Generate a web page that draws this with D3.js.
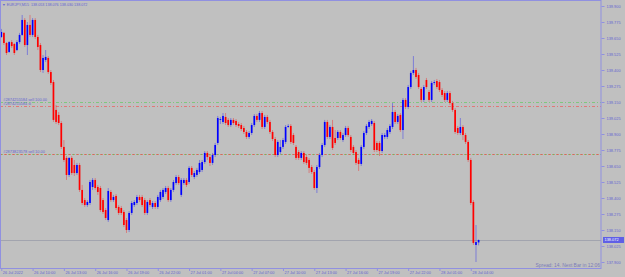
<!DOCTYPE html>
<html>
<head>
<meta charset="utf-8">
<script src="https://cdn.jsdelivr.net/npm/d3@7"></script>
<style>
  html, body { margin: 0; padding: 0; background: #c0c0c0; }
  svg { display: block; }
  text { font-family: "Liberation Sans", Arial, sans-serif; }
</style>
</head>
<body>
<div id="chart"></div>
<script>
// EURJPY M15, 26 Jul 2022 07:00 -> 28 Jul 2022 04:45
const symbolTitle = "\u25BC EURJPY,M15  138.053 138.076 138.030 138.072";
const spreadText = "Spread: 14. Next Bar in 12:06";
const firstBar = new Date(2022, 6, 26, 7, 0);

const opens = [
  139.658, 139.690, 139.611, 139.541, 139.618, 139.603, 139.556, 139.618, 139.674, 139.791,
  139.595, 139.752, 139.674, 139.791, 139.658, 139.595, 139.400, 139.478, 139.494, 139.384,
  139.306, 139.088, 139.049, 138.986, 138.799, 138.713, 138.580, 138.713, 138.658, 138.595,
  138.658, 138.463, 138.384, 138.345, 138.361, 138.486, 138.541, 138.486, 138.478, 138.384,
  138.306, 138.228, 138.447, 138.384, 138.416, 138.330, 138.322, 138.291, 138.228, 138.150,
  138.283, 138.345, 138.361, 138.408, 138.408, 138.384, 138.283, 138.384, 138.330, 138.361,
  138.330, 138.384, 138.408, 138.447, 138.478, 138.384, 138.463, 138.517, 138.564, 138.424,
  138.517, 138.541, 138.525, 138.635, 138.564, 138.580, 138.603,
  138.619, 138.681, 138.752, 138.720, 138.674, 138.736, 138.830, 139.010, 138.994, 139.033,
  139.010, 138.970, 139.010, 139.002, 138.978, 138.970, 138.947, 138.916, 138.877, 138.908,
  138.970, 139.041, 139.010, 139.064, 138.955, 139.033, 138.994, 138.916, 138.861, 138.736,
  138.759, 138.799, 138.838, 138.955, 138.963, 138.892, 138.799, 138.759, 138.713, 138.752,
  138.720, 138.697, 138.642, 138.603, 138.478, 138.642, 138.736, 138.814, 138.994, 138.877,
  138.955, 138.869, 138.869, 138.916, 138.853, 138.892, 138.947, 138.877, 138.799, 138.759,
  138.697, 138.666, 138.799, 138.908, 138.955, 138.978, 138.986, 138.830, 138.830, 138.767,
  138.877, 138.877, 138.916, 138.955, 139.072, 138.994,
  139.049, 138.931, 139.166, 139.111, 139.267, 139.377, 139.400, 139.361, 139.252, 139.166,
  139.322, 139.228, 139.166, 139.299, 139.314, 139.306, 139.244, 139.220, 139.166, 139.220,
  139.142, 139.088, 138.947, 138.908, 138.955, 138.892, 138.838, 138.697, 138.369, 138.033,
  138.053
];
const highs = [
  139.721, 139.697, 139.618, 139.626, 139.634, 139.611, 139.634, 139.690, 139.830, 139.806,
  139.775, 139.830, 139.806, 139.806, 139.674, 139.611, 139.517, 139.556, 139.509, 139.400,
  139.322, 139.127, 139.072, 139.002, 138.853, 138.728, 138.720, 138.728, 138.697, 138.674,
  138.674, 138.502, 138.400, 138.384, 138.541, 138.556, 138.556, 138.502, 138.494, 138.400,
  138.322, 138.478, 138.463, 138.424, 138.431, 138.345, 138.338, 138.306, 138.244, 138.298,
  138.377, 138.384, 138.424, 138.424, 138.424, 138.400, 138.384, 138.400, 138.377, 138.377,
  138.424, 138.463, 138.478, 138.494, 138.494, 138.478, 138.541, 138.580, 138.580, 138.556,
  138.556, 138.556, 138.650, 138.650, 138.611, 138.635, 138.697,
  138.697, 138.767, 138.767, 138.736, 138.752, 138.830, 139.041, 139.033, 139.064, 139.064,
  139.025, 139.025, 139.025, 139.017, 138.994, 138.986, 138.963, 138.931, 138.923, 138.986,
  139.056, 139.056, 139.080, 139.080, 139.049, 139.049, 139.010, 138.931, 138.877, 138.853,
  138.853, 138.869, 138.970, 138.978, 138.978, 138.908, 138.814, 138.775, 138.767, 138.767,
  138.736, 138.713, 138.658, 138.619, 138.658, 138.752, 138.830, 139.010, 139.010, 138.970,
  139.010, 138.931, 138.931, 138.931, 138.908, 138.963, 138.963, 138.892, 138.814, 138.775,
  138.713, 138.814, 138.923, 138.978, 139.010, 139.017, 139.002, 138.845, 138.845, 138.908,
  138.908, 138.947, 138.978, 139.142, 139.088, 139.056,
  139.064, 139.181, 139.181, 139.283, 139.392, 139.509, 139.416, 139.377, 139.267, 139.283,
  139.338, 139.244, 139.314, 139.322, 139.330, 139.322, 139.259, 139.236, 139.236, 139.236,
  139.158, 139.103, 138.963, 139.025, 138.970, 138.908, 138.853, 138.713, 138.384, 138.189,
  138.076
];
const lows = [
  139.650, 139.595, 139.517, 139.533, 139.572, 139.517, 139.548, 139.603, 139.666, 139.580,
  139.517, 139.658, 139.658, 139.642, 139.556, 139.384, 139.377, 139.462, 139.369, 139.283,
  138.994, 138.978, 138.970, 138.783, 138.681, 138.541, 138.564, 138.580, 138.572, 138.580,
  138.447, 138.345, 138.330, 138.330, 138.345, 138.463, 138.463, 138.424, 138.291, 138.275,
  138.228, 138.213, 138.369, 138.369, 138.306, 138.267, 138.267, 138.173, 138.127, 138.134,
  138.267, 138.330, 138.345, 138.369, 138.330, 138.267, 138.267, 138.330, 138.314, 138.314,
  138.314, 138.369, 138.392, 138.431, 138.369, 138.369, 138.447, 138.502, 138.502, 138.408,
  138.502, 138.486, 138.509, 138.564, 138.548, 138.564, 138.588,
  138.603, 138.666, 138.697, 138.650, 138.658, 138.720, 138.814, 138.978, 138.978, 138.970,
  138.955, 138.955, 138.970, 138.955, 138.947, 138.923, 138.900, 138.861, 138.861, 138.892,
  138.955, 138.994, 138.994, 138.939, 138.939, 138.978, 138.900, 138.845, 138.720, 138.720,
  138.744, 138.783, 138.822, 138.947, 138.822, 138.814, 138.697, 138.697, 138.697, 138.666,
  138.658, 138.595, 138.588, 138.463, 138.439, 138.627, 138.720, 138.799, 138.861, 138.861,
  138.775, 138.814, 138.853, 138.853, 138.838, 138.877, 138.877, 138.759, 138.736, 138.658,
  138.611, 138.650, 138.783, 138.892, 138.939, 138.963, 138.759, 138.759, 138.728, 138.752,
  138.861, 138.861, 138.900, 138.939, 138.978, 138.978,
  138.916, 138.861, 139.095, 139.095, 139.252, 139.361, 139.330, 139.252, 139.150, 139.150,
  139.252, 139.150, 139.150, 139.283, 139.252, 139.228, 139.189, 139.150, 139.150, 139.127,
  139.072, 138.900, 138.892, 138.892, 138.853, 138.822, 138.681, 138.345, 138.033, 137.900,
  138.030
];
const closes = [
  139.697, 139.611, 139.533, 139.618, 139.587, 139.533, 139.618, 139.674, 139.791, 139.595,
  139.752, 139.674, 139.791, 139.658, 139.580, 139.400, 139.494, 139.502, 139.384, 139.299,
  139.010, 138.994, 138.986, 138.799, 138.697, 138.580, 138.713, 138.595, 138.595, 138.658,
  138.463, 138.361, 138.345, 138.369, 138.525, 138.541, 138.478, 138.447, 138.306, 138.291,
  138.244, 138.455, 138.384, 138.408, 138.322, 138.283, 138.283, 138.189, 138.150, 138.283,
  138.361, 138.369, 138.408, 138.384, 138.345, 138.283, 138.369, 138.345, 138.361, 138.330,
  138.408, 138.447, 138.463, 138.478, 138.384, 138.463, 138.525, 138.564, 138.517, 138.541,
  138.541, 138.502, 138.635, 138.580, 138.595, 138.619, 138.674,
  138.681, 138.752, 138.720, 138.674, 138.736, 138.814, 139.025, 139.017, 139.041, 138.986,
  138.970, 139.010, 138.986, 138.970, 138.963, 138.939, 138.916, 138.877, 138.908, 138.970,
  139.041, 139.010, 139.064, 138.955, 139.033, 138.994, 138.916, 138.861, 138.736, 138.838,
  138.799, 138.853, 138.955, 138.963, 138.838, 138.830, 138.713, 138.713, 138.752, 138.681,
  138.674, 138.635, 138.603, 138.478, 138.642, 138.736, 138.814, 138.994, 138.877, 138.955,
  138.791, 138.830, 138.916, 138.869, 138.892, 138.947, 138.892, 138.775, 138.752, 138.674,
  138.666, 138.799, 138.908, 138.963, 138.994, 139.002, 138.775, 138.775, 138.767, 138.892,
  138.892, 138.931, 138.963, 139.072, 138.994, 139.041,
  138.931, 139.166, 139.111, 139.267, 139.377, 139.400, 139.345, 139.267, 139.166, 139.267,
  139.267, 139.166, 139.299, 139.306, 139.267, 139.244, 139.205, 139.166, 139.220, 139.142,
  139.088, 138.916, 138.908, 138.955, 138.892, 138.838, 138.697, 138.361, 138.049, 138.056,
  138.072
];

// price axis ticks
const priceTicks = [139.900, 139.775, 139.650, 139.525, 139.400, 139.275, 139.150, 139.025,
  138.900, 138.775, 138.650, 138.525, 138.400, 138.275, 138.150, 138.025, 137.900];

// time axis ticks and their labels
const timeTicks = [
  new Date(2022, 6, 26, 7), new Date(2022, 6, 26, 10), new Date(2022, 6, 26, 13),
  new Date(2022, 6, 26, 16), new Date(2022, 6, 26, 19), new Date(2022, 6, 26, 22),
  new Date(2022, 6, 27, 1), new Date(2022, 6, 27, 4), new Date(2022, 6, 27, 7),
  new Date(2022, 6, 27, 10), new Date(2022, 6, 27, 13), new Date(2022, 6, 27, 16),
  new Date(2022, 6, 27, 19), new Date(2022, 6, 27, 22), new Date(2022, 6, 28, 1),
  new Date(2022, 6, 28, 4)
];
const timeLabels = ["26 Jul 2022", "26 Jul 10:00", "26 Jul 13:00", "26 Jul 16:00",
  "26 Jul 19:00", "26 Jul 22:00", "27 Jul 01:00", "27 Jul 04:00", "27 Jul 07:00",
  "27 Jul 10:00", "27 Jul 13:00", "27 Jul 16:00", "27 Jul 19:00", "27 Jul 22:00",
  "28 Jul 01:00", "28 Jul 04:00"];

// open orders drawn on the chart
const orderLabels = ["#2874255584 sell 100.00", "#2874255584 sl", "#2873823578 sell 10.00", ""];
const orderPrices = [139.152, 139.117, 138.740, 138.740];
const orderKinds = ["entry", "sl", "entry", "sl"];

const W = 625, H = 277;
const plotRight = 601, plotBottom = 268.5;
const bg = "#c0c0c0";
const fg = "#6464d2";
const frameColor = "#9090e0";
const upColor = "#0000ff", downColor = "#ff0000";

const barTimes = opens.map((_, i) => d3.timeMinute.offset(firstBar, 15 * i));
const last = opens.length - 1;

const x = d3.scaleTime()
  .domain([barTimes[0], barTimes[last]])
  .range([1.3, 478.6]);
const y = d3.scaleLinear()
  .domain([137.9, 139.9])
  .range([262, 6]);

const svg = d3.select("#chart").append("svg")
  .attr("width", W)
  .attr("height", H);

svg.append("rect")
  .attr("width", W).attr("height", H)
  .attr("fill", bg);

// order lines (dash-dot), pale like MT4 after downscaling
const orders = svg.append("g");
orderPrices.forEach((p, i) => {
  let yy = Math.round(y(p)) + 0.5;
  orders.append("line")
    .attr("x1", 0).attr("x2", plotRight)
    .attr("y1", yy).attr("y2", yy)
    .attr("stroke", orderKinds[i] === "sl" ? "#ff3030" : "#30d030")
    .attr("stroke-opacity", orderKinds[i] === "sl" ? 0.5 : 0.45)
    .attr("stroke-width", 1)
    .attr("stroke-dasharray", "3,2,1,2")
    .attr("stroke-dashoffset", orderKinds[i] === "sl" && i > 1 ? 4 : 0);
  if (orderLabels[i]) {
    orders.append("text")
      .attr("x", 3.3)
      .attr("y", yy - 1.3)
      .attr("font-size", 3.9)
      .attr("fill", fg)
      .text(orderLabels[i]);
  }
});

// bid line
const bidY = Math.round(y(closes[last])) + 0.5;
svg.append("line")
  .attr("x1", 0).attr("x2", plotRight)
  .attr("y1", bidY).attr("y2", bidY)
  .attr("stroke", "#a2a4ae")
  .attr("stroke-width", 1);

// candles
const candles = svg.append("g").selectAll("g")
  .data(opens.map((o, i) => ({t: barTimes[i], o: o, h: highs[i], l: lows[i], c: closes[i]})))
  .join("g");

candles.append("line")
  .attr("x1", d => x(d.t)).attr("x2", d => x(d.t))
  .attr("y1", d => y(d.h)).attr("y2", d => y(d.l))
  .attr("stroke", d => d.c >= d.o ? upColor : downColor)
  .attr("stroke-opacity", 0.35)
  .attr("stroke-width", 1);

candles.append("rect")
  .attr("x", d => x(d.t) - 0.85)
  .attr("width", 1.7)
  .attr("y", d => y(Math.max(d.o, d.c)))
  .attr("height", d => Math.max(0.8, Math.abs(y(d.o) - y(d.c))))
  .attr("fill", d => d.c >= d.o ? upColor : downColor);

// frame
svg.append("rect")
  .attr("x", 0.5).attr("y", 0.5)
  .attr("width", plotRight - 0.5).attr("height", plotBottom - 0.5)
  .attr("fill", "none")
  .attr("stroke", frameColor)
  .attr("stroke-width", 1);

// price axis
const yAxis = svg.append("g")
  .attr("transform", "translate(" + (plotRight + 0.5) + ",0)")
  .call(d3.axisRight(y).tickValues(priceTicks).tickSize(3).tickPadding(2)
    .tickFormat(d3.format(".3f")));
yAxis.select(".domain").remove();
yAxis.selectAll("line").attr("stroke", frameColor);
yAxis.selectAll("text")
  .attr("font-size", 3.9)
  .attr("font-family", "Liberation Sans, Arial, sans-serif")
  .attr("fill", fg);

// time axis
const xAxis = svg.append("g")
  .attr("transform", "translate(0," + plotBottom + ")")
  .call(d3.axisBottom(x).tickValues(timeTicks).tickSize(2.5)
    .tickFormat((d, i) => timeLabels[i]));
xAxis.select(".domain").remove();
xAxis.selectAll("line").attr("stroke", frameColor);
xAxis.selectAll("text")
  .attr("text-anchor", "start")
  .attr("x", 1)
  .attr("y", 2.5)
  .attr("dy", "0.71em")
  .attr("font-size", 3.9)
  .attr("font-family", "Liberation Sans, Arial, sans-serif")
  .attr("fill", fg);

// current price marker on the axis
const tagY = y(closes[last]);
svg.append("rect")
  .attr("x", plotRight + 2).attr("y", tagY - 3)
  .attr("width", 21).attr("height", 6)
  .attr("fill", "#5f5fe6");
svg.append("text")
  .attr("x", plotRight + 3.5).attr("y", tagY + 1.4)
  .attr("font-size", 3.9)
  .attr("fill", "#ffffff")
  .text(d3.format(".3f")(closes[last]));

// title and status text
svg.append("text")
  .attr("x", 2).attr("y", 5.6)
  .attr("font-size", 3.7)
  .attr("fill", fg)
  .attr("xml:space", "preserve")
  .text(symbolTitle);

svg.append("text")
  .attr("x", plotRight - 1).attr("y", 267.4)
  .attr("text-anchor", "end")
  .attr("font-family", "Liberation Mono, monospace")
  .attr("font-size", 4.9)
  .attr("fill", "#7a7ab8")
  .text(spreadText);
</script>
</body>
</html>
